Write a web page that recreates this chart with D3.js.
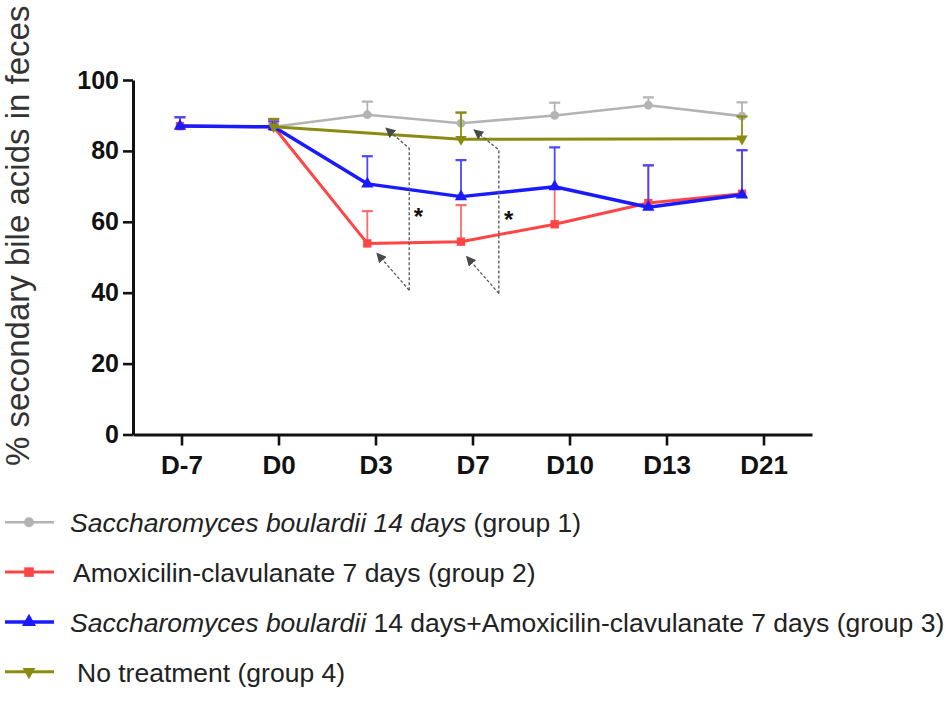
<!DOCTYPE html>
<html>
<head>
<meta charset="utf-8">
<script src="https://cdn.jsdelivr.net/npm/d3@7"></script>
<style>
  html, body { margin: 0; padding: 0; background: #fff; }
  svg { display: block; }
  text { font-family: "Liberation Sans", Arial, Helvetica, sans-serif; }
</style>
</head>
<body>
<svg id="chart" width="950" height="701"></svg>
<script>
// ---------------- data ----------------
const categories = ["D-7", "D0", "D3", "D7", "D10", "D13", "D21"];
const yTicks = [0, 20, 40, 60, 80, 100];

// group 1: Saccharomyces boulardii 14 days
const g1Mean = [87.0, 86.8, 90.2, 87.8, 90.0, 92.9, 89.8];
const g1Err  = [2.5, 2.2, 3.7, 3.0, 3.6, 2.2, 3.9];
// group 2: Amoxicilin-clavulanate 7 days
const g2Mean = [87.0, 86.8, 53.9, 54.4, 59.3, 65.3, 67.9];
const g2Err  = [2.5, 2.0, 9.1, 10.3, 10.5, 10.7, 12.3];
// group 3: S. boulardii 14 days + Amoxicilin-clavulanate 7 days
const g3Mean = [87.0, 86.8, 70.7, 67.1, 69.9, 64.1, 67.6];
const g3Err  = [2.5, 1.5, 7.8, 10.3, 11.1, 11.8, 12.6];
// group 4: No treatment (sampled at D0, D7, D21)
const g4Mean = [null, 86.8, null, 83.3, null, null, 83.4];
const g4Err  = [0, 2.2, 0, 7.5, 0, 0, 6.3];

const seriesNames = [
  [{t: "Saccharomyces boulardii 14 days", i: true}, {t: " (group 1)", i: false}],
  [{t: "Amoxicilin-clavulanate 7 days (group 2)", i: false}],
  [{t: "Saccharomyces boulardii", i: true}, {t: " 14 days+Amoxicilin-clavulanate 7 days (group 3)", i: false}],
  [{t: "No treatment (group 4)", i: false}]
];

// significance annotations: category, offsets (fraction of step) and values
const annCategory = ["D3", "D7"];
const annVertFrac = [0.447, 0.404];
const annTopVal   = [80.7, 80.3];
const annBotVal   = [40.7, 39.8];
const annUpTipFrac = [0.20, 0.14];
const annUpTipVal  = [86.4, 85.9];
const annLoTipFrac = [0.103, 0.06];
const annLoTipVal  = [51.1, 50.2];
const annStarFrac  = [0.546, 0.51];
const annStarVal   = [62.8, 61.9];

// ---------------- layout ----------------
const svg = d3.select("#chart");
const y = d3.scaleLinear().domain([0, 100]).range([434.5, 80]);
const xAxisScale = d3.scalePoint().domain(categories).range([133, 812]).padding(0.5);
const xData = d3.scalePoint().domain(categories).range([180, 742]);
const step = xData.step();

const series = [
  {mean: g1Mean, err: g1Err, color: "#b3b3b3", errColor: "#b3b3b3", lw: 2.6, sym: d3.symbolCircle, size: 60, rot: 0},
  {mean: g2Mean, err: g2Err, color: "#ff4545", errColor: "#ff6a6a", lw: 3, sym: d3.symbolSquare, size: 70, rot: 0},
  {mean: g3Mean, err: g3Err, color: "#1a1aff", errColor: "#4848ff", lw: 3.5, sym: d3.symbolTriangle, size: 66, rot: 0},
  {mean: g4Mean, err: g4Err, color: "#8b8b14", errColor: "#8b8b14", lw: 3, sym: d3.symbolTriangle, size: 56, rot: 180}
];

// ---------------- axes ----------------
const yAxis = svg.append("g")
  .attr("transform", "translate(133,0)")
  .call(d3.axisLeft(y).tickValues(yTicks).tickSize(10).tickSizeOuter(0).tickPadding(4));
yAxis.select(".domain").attr("stroke", "#111").attr("stroke-width", 3);
yAxis.selectAll(".tick line").attr("stroke", "#111").attr("stroke-width", 2.6);
yAxis.selectAll(".tick text")
  .attr("fill", "#111").style("font-size", "25px").style("font-weight", "bold");

const xAxis = svg.append("g")
  .attr("transform", "translate(0,434.5)")
  .call(d3.axisBottom(xAxisScale).tickSize(11).tickSizeOuter(0).tickPadding(10));
xAxis.select(".domain").attr("stroke", "#111").attr("stroke-width", 3);
xAxis.selectAll(".tick line").attr("stroke", "#111").attr("stroke-width", 2.6);
xAxis.selectAll(".tick text")
  .attr("fill", "#111").style("font-size", "26px").style("font-weight", "bold");

// y label
svg.append("text")
  .attr("transform", "translate(29,466) rotate(-90)")
  .attr("text-anchor", "start")
  .attr("fill", "#333")
  .style("font-size", "33px")
  .text("% secondary bile acids in feces");

// ---------------- series ----------------
series.forEach(s => {
  const pts = categories.map((c, i) => ({c, v: s.mean[i], e: s.err[i]})).filter(d => d.v !== null);
  const g = svg.append("g");
  // error bars (upper only)
  pts.filter(d => d.e > 0).forEach(d => {
    const xx = xData(d.c);
    g.append("line").attr("x1", xx).attr("x2", xx)
      .attr("y1", y(d.v)).attr("y2", y(d.v + d.e))
      .attr("stroke", s.errColor).attr("stroke-width", 1.8);
    g.append("line").attr("x1", xx - 5.5).attr("x2", xx + 5.5)
      .attr("y1", y(d.v + d.e)).attr("y2", y(d.v + d.e))
      .attr("stroke", s.errColor).attr("stroke-width", 2.2);
  });
  // line
  g.append("path")
    .datum(pts)
    .attr("fill", "none")
    .attr("stroke", s.color)
    .attr("stroke-width", s.lw)
    .attr("stroke-linejoin", "round")
    .attr("d", d3.line().x(d => xData(d.c)).y(d => y(d.v)));
  // markers
  g.selectAll("path.m").data(pts).enter().append("path")
    .attr("class", "m")
    .attr("d", d3.symbol().type(s.sym).size(s.size))
    .attr("transform", d => `translate(${xData(d.c)},${y(d.v)}) rotate(${s.rot})`)
    .attr("fill", s.color);
});

// ---------------- annotations ----------------
const defs = svg.append("defs");
defs.append("marker")
  .attr("id", "arrow")
  .attr("viewBox", "0 0 10 10")
  .attr("refX", 9).attr("refY", 5)
  .attr("markerWidth", 10).attr("markerHeight", 10)
  .attr("markerUnits", "userSpaceOnUse")
  .attr("orient", "auto")
  .append("path").attr("d", "M0,0 L10,5 L0,10 Z").attr("fill", "#4a4a4a");

annCategory.forEach((c, i) => {
  const base = xData(c);
  const vx = base + annVertFrac[i] * step;
  const bot = [vx, y(annBotVal[i])];
  const top = [vx, y(annTopVal[i])];
  const upTip = [base + annUpTipFrac[i] * step, y(annUpTipVal[i])];
  const loTip = [base + annLoTipFrac[i] * step, y(annLoTipVal[i])];
  svg.append("path")
    .attr("d", d3.line()([bot, top, upTip]))
    .attr("fill", "none").attr("stroke", "#555").attr("stroke-width", 1.3)
    .attr("stroke-dasharray", "3,2")
    .attr("marker-end", "url(#arrow)");
  svg.append("path")
    .attr("d", d3.line()([bot, loTip]))
    .attr("fill", "none").attr("stroke", "#555").attr("stroke-width", 1.3)
    .attr("stroke-dasharray", "3,2")
    .attr("marker-end", "url(#arrow)");
  svg.append("text")
    .attr("x", base + annStarFrac[i] * step)
    .attr("y", y(annStarVal[i]) + 13)
    .attr("text-anchor", "middle")
    .attr("fill", "#111")
    .style("font-size", "24px").style("font-weight", "bold")
    .text("*");
});

// ---------------- legend ----------------
const legendTop = 522.3, legendGap = 49.8;
const legendTextX = [70, 73, 70, 77];
series.forEach((s, i) => {
  const ly = legendTop + i * legendGap;
  const g = svg.append("g");
  g.append("line").attr("x1", 5).attr("x2", 54).attr("y1", ly).attr("y2", ly)
    .attr("stroke", s.color).attr("stroke-width", s.lw);
  g.append("path")
    .attr("d", d3.symbol().type(s.sym).size(s.size * 1.3))
    .attr("transform", `translate(29,${ly}) rotate(${s.rot})`)
    .attr("fill", s.color);
  const t = g.append("text")
    .attr("x", legendTextX[i]).attr("y", ly + 10)
    .attr("fill", "#222")
    .style("font-size", "26.5px");
  seriesNames[i].forEach(p => {
    t.append("tspan").style("font-style", p.i ? "italic" : "normal").text(p.t);
  });
});
</script>
</body>
</html>
